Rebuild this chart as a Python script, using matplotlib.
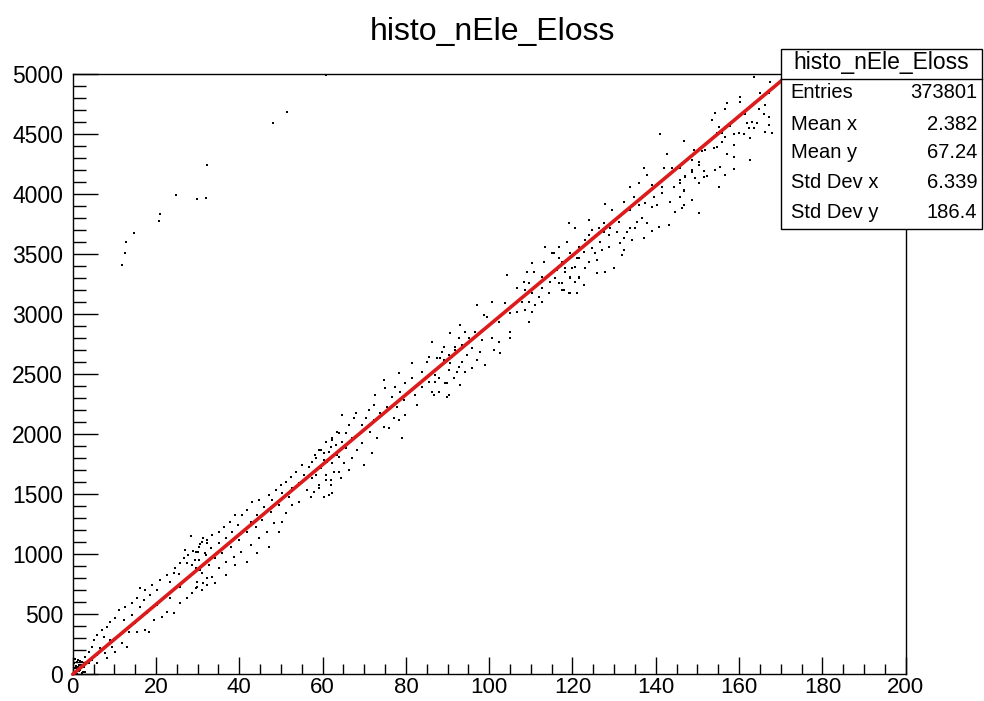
"""Recreate the ROOT 2D histogram histo_nEle_Eloss as a matplotlib figure."""
import matplotlib
matplotlib.use("Agg")
import matplotlib.pyplot as plt
from matplotlib.patches import Rectangle
from matplotlib.ticker import MultipleLocator

plt.rcParams["font.family"] = ["Liberation Sans", "DejaVu Sans"]

TITLE = "histo_nEle_Eloss"

# scattered entries (Eloss, nEle)
band_x = [
    28.3, 31.4, 32.2, 30.6, 27.0, 29.0, 30.2, 27.8, 31.8, 26.6, 29.4, 25.8, 27.4, 28.6, 24.6, 30.6,
    24.2, 25.4, 22.6, 32.2, 21.0, 23.4, 31.4, 29.8, 25.8, 19.0, 20.2, 17.4, 16.2, 18.6, 21.8, 28.6,
    23.4, 27.4, 25.8, 17.0, 15.4, 14.2, 20.2, 16.2, 12.6, 11.0, 22.6, 24.2, 14.2, 17.8, 10.2, 12.2,
    19.4, 9.0, 21.4, 15.0, 8.2, 7.0, 17.4, 15.4, 18.2, 13.4, 5.8, 7.4, 11.4, 9.0, 5.0, 11.8,
    9.4, 4.6, 6.6, 13.0, 10.2, 3.8, 5.8, 7.8, 3.0, 4.6, 8.2, 2.2, 3.8, 5.8, 1.4, 2.6,
    1.8, 3.0, 1.0, 0.6, 2.2,
    63.9, 62.3, 60.7, 63.1, 59.5, 61.5, 58.2, 63.9, 60.3, 57.5, 62.3, 56.7, 55.1, 59.1, 63.9, 53.5,
    55.5, 60.7, 52.3, 57.5, 61.9, 51.1, 54.3, 49.9, 59.1, 52.7, 56.3, 48.7, 61.5, 50.3, 47.1, 51.9,
    57.1, 44.7, 47.9, 54.3, 43.1, 49.5, 45.9, 52.7, 41.9, 47.5, 51.1, 44.3, 40.7, 39.0, 50.3, 45.5,
    42.7, 48.3, 37.8, 39.8, 43.9, 36.3, 46.7, 49.5, 35.1, 38.3, 41.9, 33.5, 36.7, 44.7, 39.9, 32.3,
    31.1, 35.1, 42.7, 37.9, 47.1, 30.3, 33.1, 40.3, 35.9, 29.5, 31.9, 44.3, 38.7, 34.2, 30.3, 41.9,
    36.7, 32.7, 39.0, 29.5, 35.1, 31.1, 33.5, 36.7, 29.9, 32.3, 34.2, 31.1, 29.5,
    90.7, 92.7, 86.3, 89.1, 91.9, 85.5, 88.3, 91.1, 85.1, 81.5, 92.7, 90.3, 83.9, 87.1, 78.3, 81.5,
    85.5, 89.5, 90.3, 79.9, 74.7, 77.5, 83.9, 75.1, 78.7, 86.3, 82.3, 76.7, 72.7, 79.5, 82.7, 72.3,
    75.5, 77.9, 71.1, 73.9, 79.9, 67.9, 77.1, 70.3, 72.3, 78.3, 67.5, 64.7, 66.3, 69.5, 74.7, 63.5,
    71.5, 65.5, 75.9, 62.3, 67.1, 60.7, 73.1, 79.1, 64.7, 69.5, 68.3, 59.1, 61.9, 65.5, 71.9, 60.3,
    63.5, 67.1, 58.3, 61.1, 65.1, 69.9, 59.5, 62.7, 66.3, 58.3, 60.7, 64.3, 61.9, 59.1, 57.9, 60.3,
    62.3,
    120.7, 118.7, 113.5, 116.7, 121.5, 115.1, 119.5, 121.5, 113.1, 117.5, 110.3, 119.9, 116.3, 118.3,
    114.3, 121.5, 109.1, 110.7, 112.7, 104.3, 108.3, 109.5, 114.7, 116.7, 119.5, 117.9, 119.5, 121.1,
    112.7, 106.7, 108.7, 110.3, 114.3, 111.9, 112.7, 103.9, 107.9, 109.5, 111.1, 100.7, 97.1, 106.7,
    108.7, 105.1, 98.7, 110.3, 99.5, 109.5, 93.1, 102.3, 96.7, 105.1, 90.7, 94.3, 95.1, 98.3,
    100.7, 102.3, 105.1, 91.9, 93.5, 95.9, 97.9, 101.1, 102.7, 88.7, 90.3, 94.7, 87.5, 89.1,
    97.1, 93.5, 99.1, 90.7, 95.9, 92.3, 94.3, 87.9, 91.5, 89.9, 87.1, 93.1, 87.9, 89.9, 86.7,
    141.1, 146.7, 142.7, 137.1, 141.9, 143.9, 150.3, 148.7, 137.9, 147.1, 145.9, 150.3, 133.9, 135.9,
    139.1, 141.5, 144.3, 146.7, 132.3, 134.7, 136.7, 139.5, 141.5, 143.5, 145.9, 127.9, 129.5, 133.9,
    135.9, 137.5, 139.1, 140.3, 146.7, 144.7, 150.3, 119.1, 123.9, 127.5, 131.1, 135.5, 136.7, 137.9,
    139.1, 140.7, 143.1, 135.1, 133.9, 124.7, 126.3, 127.5, 129.1, 130.7, 133.1, 132.3, 134.3, 123.9,
    125.5, 128.7, 137.1, 118.7, 123.1, 126.7, 131.5, 121.5, 124.7, 128.7, 132.3, 115.5, 119.5, 122.7,
    125.5, 127.1, 116.7, 121.1, 123.9, 125.9, 131.9, 118.3, 120.7, 123.1, 129.9, 125.9, 127.9, 115.9,
    119.5, 121.5, 117.5, 120.7, 122.7, 117.5, 119.1, 121.1,
    163.5, 167.5, 165.1, 167.1, 160.3, 160.3, 157.1, 156.7, 154.3, 164.7, 166.3, 165.9, 161.5, 163.1,
    164.3, 161.9, 167.1, 153.5, 157.9, 155.1, 155.9, 156.7, 154.7, 158.7, 159.9, 161.1, 163.5, 162.3,
    167.9, 166.3, 167.1, 146.7, 155.9, 153.9, 154.7, 158.7, 162.7, 149.1, 151.1, 151.9, 157.1, 158.7,
    162.7, 148.7, 150.3, 145.9, 148.7, 151.5, 154.3, 158.7, 147.1, 149.5, 151.5, 152.3, 155.5, 156.7,
    145.9, 150.3, 155.1, 146.7, 145.9, 148.7, 146.3,
]
band_y = [
    1153, 1133, 1092, 1086, 1036, 1031, 1022, 995, 1008, 967, 953, 925, 931, 911, 883, 870,
    842, 836, 828, 800, 786, 772, 758, 731, 731, 745, 703, 703, 717, 661, 647, 675,
    633, 633, 592, 620, 633, 592, 578, 558, 564, 536, 522, 508, 494, 508, 467, 453,
    453, 439, 481, 425, 397, 369, 369, 356, 356, 356, 328, 314, 328, 286, 286, 258,
    231, 231, 217, 231, 189, 189, 161, 175, 147, 119, 133, 106, 92, 92, 78, 64,
    36, 22, 50, 22, 8,
    2008, 1966, 1939, 1911, 1869, 1855, 1827, 1814, 1786, 1772, 1758, 1730, 1744, 1716, 1689, 1689,
    1661, 1661, 1647, 1633, 1619, 1605, 1591, 1577, 1577, 1550, 1536, 1536, 1494, 1508, 1494, 1480,
    1480, 1452, 1452, 1439, 1439, 1411, 1397, 1411, 1369, 1355, 1341, 1327, 1327, 1327, 1272, 1286,
    1272, 1258, 1272, 1244, 1230, 1230, 1189, 1189, 1189, 1189, 1189, 1161, 1133, 1133, 1119, 1119,
    1105, 1091, 1077, 1064, 1064, 1064, 1050, 1022, 1008, 1022, 994, 1008, 980, 966, 952, 939,
    939, 911, 911, 883, 883, 841, 814, 827, 772, 744, 758, 702, 716,
    2841, 2800, 2772, 2730, 2702, 2647, 2633, 2647, 2605, 2591, 2563, 2536, 2522, 2494, 2508, 2466,
    2439, 2425, 2327, 2425, 2452, 2397, 2397, 2383, 2355, 2355, 2327, 2314, 2327, 2286, 2244, 2244,
    2230, 2230, 2202, 2175, 2161, 2175, 2133, 2133, 2119, 2119, 2133, 2161, 2077, 2077, 2064, 2022,
    2022, 2008, 2050, 1952, 1966, 1939, 1966, 1966, 1939, 1925, 1869, 1869, 1897, 1883, 1841, 1841,
    1827, 1800, 1800, 1772, 1758, 1744, 1716, 1689, 1702, 1661, 1619, 1633, 1577, 1550, 1522, 1480,
    1508,
    3716, 3605, 3563, 3563, 3563, 3508, 3508, 3466, 3438, 3438, 3425, 3383, 3369, 3355,
    3327, 3313, 3355, 3355, 3313, 3327, 3272, 3258, 3272, 3258, 3300, 3202, 3175, 3175,
    3216, 3216, 3202, 3175, 3175, 3147, 3105, 3091, 3105, 3105, 3077, 3105, 3077, 3022,
    3036, 3008, 2994, 3022, 2980, 2938, 2911, 2938, 2855, 2855, 2841, 2855, 2800, 2786,
    2800, 2772, 2800, 2730, 2744, 2716, 2688, 2702, 2674, 2688, 2661, 2661, 2633, 2619,
    2619, 2605, 2577, 2591, 2549, 2522, 2522, 2466, 2466, 2424, 2438, 2411, 2355, 2313, 2327,
    4499, 4444, 4333, 4216, 4216, 4221, 4244, 4188, 4160, 4146, 4119, 4091, 4063, 4091,
    4077, 4063, 4063, 4035, 3938, 3980, 3966, 3980, 4007, 3938, 3980, 3916, 3869, 3869,
    3910, 3924, 3896, 3910, 3910, 3855, 3841, 3758, 3785, 3758, 3771, 3771, 3799, 3758,
    3694, 3730, 3744, 3716, 3716, 3702, 3716, 3688, 3716, 3688, 3688, 3633, 3619, 3660,
    3646, 3660, 3633, 3605, 3619, 3605, 3591, 3563, 3549, 3563, 3535, 3507, 3507, 3521,
    3507, 3535, 3466, 3466, 3438, 3452, 3494, 3382, 3396, 3382, 3382, 3341, 3355, 3299,
    3313, 3299, 3257, 3271, 3244, 3202, 3174, 3174,
    4975, 4938, 4841, 4841, 4808, 4772, 4763, 4708, 4675, 4708, 4744, 4669, 4669, 4605,
    4597, 4597, 4641, 4619, 4569, 4563, 4508, 4480, 4513, 4502, 4513, 4502, 4550, 4550,
    4513, 4522, 4577, 4447, 4438, 4383, 4391, 4411, 4466, 4369, 4363, 4369, 4336, 4313,
    4286, 4286, 4272, 4216, 4202, 4197, 4202, 4208, 4152, 4133, 4141, 4152, 4224, 4161,
    4097, 4097, 4058, 4030, 3980, 3952, 3883,
]

# dense cell cluster at the origin
origin_x = [0.3, 0.5, 0.8, 1.0, 1.2, 1.5, 1.8, 2.0, 2.5, 0.4, 0.9, 1.3, 1.7, 2.2, 0.6, 1.1]
origin_y = [90, 50, 10, 100, 60, 30, 110, 80, 20, 20, 70, 120, 45, 60, 130, 5]

# isolated entries far above the band
outlier_x = [11.8, 12.5, 12.9, 14.7, 20.7, 21.0, 24.7, 29.8, 32.0, 32.3, 48.0, 51.5, 60.8]
outlier_y = [3414, 3514, 3600, 3678, 3775, 3839, 3994, 3961, 3972, 4242, 4597, 4686, 4992]

# red profile line
line_x = [0, 40, 80, 120, 172]
line_y = [0, 1165, 2330, 3490, 5000]

stat_labels = ["Entries", "Mean x", "Mean y", "Std Dev x", "Std Dev y"]
stat_values = ["373801", "2.382", "67.24", "6.339", "186.4"]

fig = plt.figure(figsize=(9.84, 7.01), dpi=100)
ax = fig.add_axes([0.0739, 0.0381, 0.8465, 0.8559])

dots = dict(marker="s", s=2.0, color="black", linewidths=0, zorder=2)
ax.scatter(band_x, band_y, **dots)
ax.scatter(origin_x, origin_y, **dots)
ax.scatter(outlier_x, outlier_y, **dots)
ax.plot(line_x, line_y, color="#dc1c1c", linewidth=2.6, zorder=3, clip_on=False,
        solid_capstyle="round")

ax.set_xlim(0, 200)
ax.set_ylim(0, 5000)
ax.xaxis.set_major_locator(MultipleLocator(20))
ax.xaxis.set_minor_locator(MultipleLocator(5))
ax.yaxis.set_major_locator(MultipleLocator(500))
ax.yaxis.set_minor_locator(MultipleLocator(100))
ax.tick_params(axis="x", which="major", direction="in", length=12.2, width=1.0,
               labelsize=16, pad=2, top=False)
ax.tick_params(axis="x", which="minor", direction="in", length=7.2, width=1.0, top=False)
ax.tick_params(axis="y", which="major", direction="in", length=18, width=1.0,
               labelsize=16.5, pad=7, right=False)
ax.tick_params(axis="y", which="minor", direction="in", length=9.4, width=1.0, right=False)
for sp in ax.spines.values():
    sp.set_linewidth(1.0)

fig.text(0.5, 1 - 32 / 701, TITLE, ha="center", va="center", fontsize=23)

# stats box
bx0, bx1 = 780.7 / 984, 981.7 / 984
by0, by1 = 1 - 229 / 701, 1 - 49 / 701
fig.patches.append(Rectangle((bx0, by0), bx1 - bx0, by1 - by0, transform=fig.transFigure,
                             facecolor="white", edgecolor="black", linewidth=1.0, zorder=5))
sep_y = 1 - 79 / 701
fig.add_artist(plt.Line2D([bx0, bx1], [sep_y, sep_y], transform=fig.transFigure,
                          color="black", linewidth=1.0, zorder=6))
fig.text((bx0 + bx1) / 2, 1 - 63 / 701, TITLE, ha="center", va="center", fontsize=16.5, zorder=7)
row_y = [93, 124, 153, 183, 213]
for lab, val, ry in zip(stat_labels, stat_values, row_y):
    fig.text(790.7 / 984, 1 - ry / 701, lab, ha="left", va="center", fontsize=14.5, zorder=7)
    fig.text(977.3 / 984, 1 - ry / 701, val, ha="right", va="center", fontsize=14.5, zorder=7)

fig.savefig("out.png", dpi=100)
